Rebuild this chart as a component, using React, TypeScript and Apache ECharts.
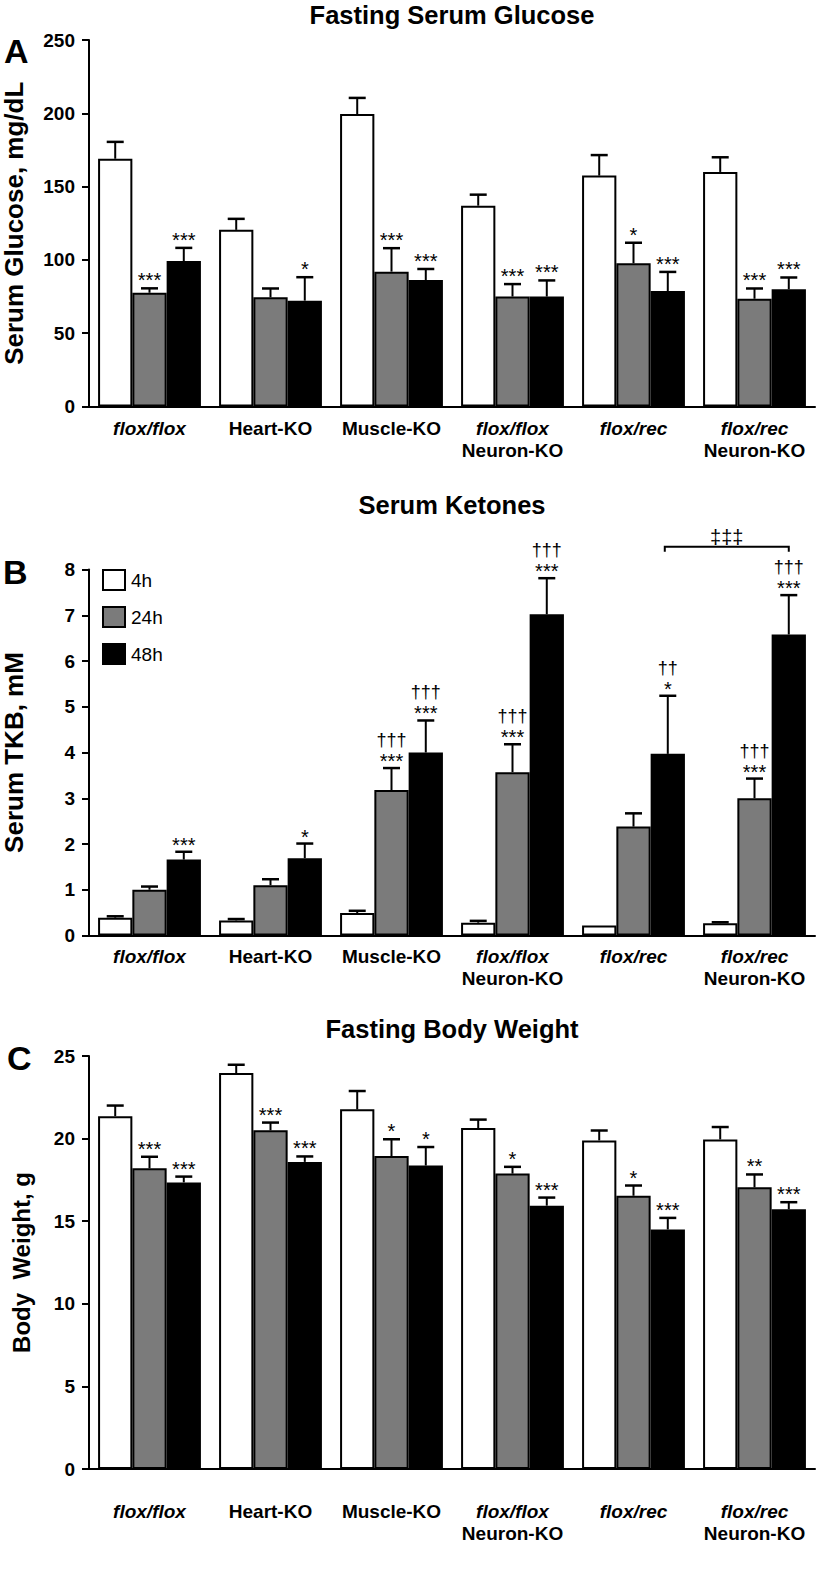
import React, { useEffect, useRef } from 'react';
import * as echarts from 'echarts';

// ---------- data ----------
const categories = ['flox/flox', 'Heart-KO', 'Muscle-KO', 'flox/flox\nNeuron-KO', 'flox/rec', 'flox/rec\nNeuron-KO'];
const timepoints = ['4h', '24h', '48h'];

// A: Fasting serum glucose (mg/dL)
const glucose4h = [169, 120.5, 199.5, 137, 157.5, 160];
const glucose4hErr = [11.5, 7.5, 11, 7.5, 14, 10];
const glucose24h = [77.6, 74.5, 92, 75, 97.7, 73.5];
const glucose24hErr = [3, 6, 16, 8.5, 14, 7];
const glucose48h = [99.2, 72.2, 86.3, 75, 78.8, 80];
const glucose48hErr = [9, 16, 7.5, 11, 13, 8];
const glucoseStars24h = ['***', '', '***', '***', '*', '***'];
const glucoseStars48h = ['***', '*', '***', '***', '***', '***'];

// B: Serum ketones (TKB, mM)
const ketone4h = [0.39, 0.33, 0.49, 0.28, 0.22, 0.27];
const ketone4hErr = [0.03, 0.03, 0.05, 0.04, 0, 0.02];
const ketone24h = [1.0, 1.1, 3.18, 3.57, 2.38, 3.0];
const ketone24hErr = [0.07, 0.13, 0.48, 0.61, 0.29, 0.43];
const ketone48h = [1.66, 1.69, 4.0, 7.02, 3.97, 6.58];
const ketone48hErr = [0.17, 0.32, 0.7, 0.79, 1.27, 0.86];
const ketoneStars24h = ['', '', '***', '***', '', '***'];
const ketoneDaggers24h = ['', '', '†††', '†††', '', '†††'];
const ketoneStars48h = ['***', '*', '***', '***', '*', '***'];
const ketoneDaggers48h = ['', '', '†††', '†††', '††', '†††'];
const ketoneBracket = { from: 4, to: 5, level: 8.5, text: '‡‡‡' };

// C: Fasting body weight (g)
const weight4h = [21.36, 23.97, 21.77, 20.64, 19.89, 19.95];
const weight4hErr = [0.64, 0.5, 1.11, 0.51, 0.6, 0.75];
const weight24h = [18.2, 20.5, 18.94, 17.88, 16.54, 17.05];
const weight24hErr = [0.7, 0.47, 1.02, 0.41, 0.62, 0.78];
const weight48h = [17.35, 18.59, 18.37, 15.94, 14.5, 15.72];
const weight48hErr = [0.35, 0.33, 1.12, 0.49, 0.7, 0.43];
const weightStars24h = ['***', '***', '*', '*', '*', '**'];
const weightStars48h = ['***', '***', '*', '***', '***', '***'];

const empty = ['', '', '', '', '', ''];

// ---------- style ----------
const FONT = '"Liberation Sans", Arial, Helvetica, sans-serif';
const GRAY = '#7b7b7b';
const FILLS = ['#ffffff', GRAY, '#000000'];
const CAT_GAP = 0.15;

type Panel = {
  title: string;
  letter: string;
  yName: string;
  yNameSize: number;
  max: number;
  interval: number;
  top: number;
  height: number;
  nameGap: number;
  labelMargin: number;
  titleY: number;
  letterY: number;
  letterX: number;
  means: number[][];
  errs: number[][];
  stars: string[][];
  daggers: string[][];
  starOffset: number;
};

const panels: Panel[] = [
  {
    title: 'Fasting Serum Glucose', letter: 'A', yName: 'Serum Glucose, mg/dL', yNameSize: 26,
    max: 250, interval: 50, top: 40, height: 366.5, nameGap: 62, labelMargin: 11,
    titleY: 15, letterY: 51, letterX: 4,
    means: [glucose4h, glucose24h, glucose48h],
    errs: [glucose4hErr, glucose24hErr, glucose48hErr],
    stars: [empty, glucoseStars24h, glucoseStars48h],
    daggers: [empty, empty, empty],
    starOffset: 8,
  },
  {
    title: 'Serum Ketones', letter: 'B', yName: 'Serum TKB, mM', yNameSize: 26,
    max: 8, interval: 1, top: 569.5, height: 366, nameGap: 62, labelMargin: 10,
    titleY: 505, letterY: 572, letterX: 3,
    means: [ketone4h, ketone24h, ketone48h],
    errs: [ketone4hErr, ketone24hErr, ketone48hErr],
    stars: [empty, ketoneStars24h, ketoneStars48h],
    daggers: [empty, ketoneDaggers24h, ketoneDaggers48h],
    starOffset: 7,
  },
  {
    title: 'Fasting Body Weight', letter: 'C', yName: 'Body  Weight, g', yNameSize: 24,
    max: 25, interval: 5, top: 1056, height: 413, nameGap: 56, labelMargin: 31,
    titleY: 1029, letterY: 1058, letterX: 7,
    means: [weight4h, weight24h, weight48h],
    errs: [weight4hErr, weight24hErr, weight48hErr],
    stars: [empty, weightStars24h, weightStars48h],
    daggers: [empty, empty, empty],
    starOffset: 8,
  },
];

function catLabel(v: string) {
  return v
    .split('\n')
    .map((line) => (line.indexOf('flox') >= 0 ? '{i|' + line + '}' : '{n|' + line + '}'))
    .join('\n');
}

function buildOption() {
  const grids: any[] = [];
  const xAxes: any[] = [];
  const yAxes: any[] = [];
  const series: any[] = [];
  const graphics: any[] = [];

  panels.forEach((p, pi) => {
    grids.push({ left: 89, top: p.top, width: 726, height: p.height, containLabel: false, outerBoundsMode: 'none' });
    xAxes.push({
      type: 'category',
      gridIndex: pi,
      data: categories,
      axisTick: { show: false },
      axisLine: { lineStyle: { color: '#000', width: 2 } },
      axisLabel: {
        interval: 0,
        margin: p.labelMargin,
        formatter: catLabel,
        rich: {
          i: { fontStyle: 'italic', fontWeight: 'bold', fontSize: 19, fontFamily: FONT, color: '#000', lineHeight: 22 },
          n: { fontWeight: 'bold', fontSize: 19, fontFamily: FONT, color: '#000', lineHeight: 22 },
        },
      },
    });
    yAxes.push({
      type: 'value',
      gridIndex: pi,
      min: 0,
      max: p.max,
      interval: p.interval,
      name: p.yName,
      nameLocation: 'middle',
      nameGap: p.nameGap,
      nameRotate: 90,
      nameTextStyle: { fontSize: p.yNameSize, fontWeight: 'bold', fontFamily: FONT, color: '#000' },
      axisLine: { show: true, lineStyle: { color: '#000', width: 2 } },
      axisTick: { show: true, length: 7, lineStyle: { color: '#000', width: 2 } },
      axisLabel: { fontSize: 19, fontWeight: 'bold', fontFamily: FONT, color: '#000', margin: 14 },
      splitLine: { show: false },
    });

    timepoints.forEach((tp, si) => {
      series.push({
        type: 'bar',
        name: tp,
        xAxisIndex: pi,
        yAxisIndex: pi,
        data: p.means[si],
        barGap: '0%',
        barCategoryGap: CAT_GAP * 100 + '%',
        itemStyle: { color: FILLS[si], borderColor: '#000', borderWidth: 2 },
        silent: true,
        z: 2,
      });
    });

    const ebData: number[][] = [];
    for (let si = 0; si < 3; si++) {
      for (let ci = 0; ci < categories.length; ci++) {
        ebData.push([ci, si, p.means[si][ci], p.errs[si][ci]]);
      }
    }
    series.push({
      type: 'custom',
      xAxisIndex: pi,
      yAxisIndex: pi,
      data: ebData,
      silent: true,
      clip: false,
      z: 5,
      renderItem: (params: any, api: any) => {
        const c = api.value(0);
        const s = api.value(1);
        const m = api.value(2);
        const e = api.value(3);
        const band = api.size([1, 0])[0];
        const bw = (band * (1 - CAT_GAP)) / 3;
        const base = api.coord([c, m]);
        const x = base[0] + (s - 1) * bw;
        const yTop = api.coord([c, m + e])[1];
        const children: any[] = [];
        if (e > 0) {
          children.push({
            type: 'line',
            shape: { x1: x, y1: base[1], x2: x, y2: yTop },
            style: { stroke: '#000', lineWidth: 2 },
          });
          children.push({
            type: 'line',
            shape: { x1: x - 8.5, y1: yTop, x2: x + 8.5, y2: yTop },
            style: { stroke: '#000', lineWidth: 2.5 },
          });
        }
        const star = p.stars[s][c];
        if (star) {
          children.push({
            type: 'text',
            x,
            y: yTop - p.starOffset,
            style: { text: star, fontSize: 20, fontFamily: FONT, fill: '#000', align: 'center', verticalAlign: 'middle' },
          });
        }
        const dag = p.daggers[s][c];
        if (dag) {
          children.push({
            type: 'text',
            x,
            y: yTop - 28,
            style: { text: dag, fontSize: 18, fontFamily: FONT, fill: '#000', align: 'center', verticalAlign: 'middle' },
          });
        }
        return { type: 'group', children };
      },
    });

    graphics.push({
      type: 'text',
      x: 452,
      y: p.titleY,
      style: { text: p.title, fontSize: 25.5, fontWeight: 'bold', fontFamily: FONT, fill: '#000', align: 'center', verticalAlign: 'middle' },
    });
    graphics.push({
      type: 'text',
      x: p.letterX,
      y: p.letterY,
      style: { text: p.letter, fontSize: 34, fontWeight: 'bold', fontFamily: FONT, fill: '#000', align: 'left', verticalAlign: 'middle' },
    });
  });

  // significance bracket in panel B
  series.push({
    type: 'custom',
    xAxisIndex: 1,
    yAxisIndex: 1,
    data: [[ketoneBracket.from, ketoneBracket.to, ketoneBracket.level]],
    silent: true,
    clip: false,
    z: 5,
    renderItem: (params: any, api: any) => {
      const band = api.size([1, 0])[0];
      const bw = (band * (1 - CAT_GAP)) / 3;
      const a = api.coord([api.value(0), api.value(2)]);
      const b = api.coord([api.value(1), api.value(2)]);
      const x1 = a[0] + bw - 3;
      const x2 = b[0] + bw;
      const y = a[1];
      return {
        type: 'group',
        children: [
          {
            type: 'polyline',
            shape: { points: [[x1, y + 5], [x1, y], [x2, y], [x2, y + 5]] },
            style: { stroke: '#000', lineWidth: 2, fill: 'none' },
          },
          {
            type: 'text',
            x: (x1 + x2) / 2,
            y: y - 10,
            style: { text: ketoneBracket.text, fontSize: 20, fontFamily: FONT, fill: '#000', align: 'center', verticalAlign: 'middle' },
          },
        ],
      };
    },
  });

  return {
    animation: false,
    backgroundColor: '#ffffff',
    grid: grids,
    xAxis: xAxes,
    yAxis: yAxes,
    legend: {
      orient: 'vertical',
      left: 102,
      top: 569,
      padding: 0,
      itemWidth: 22,
      itemHeight: 20,
      itemGap: 15,
      selectedMode: false,
      icon: 'rect',
      textStyle: { fontSize: 19, fontFamily: FONT, color: '#000', padding: [0, 0, 0, 1] },
      data: timepoints.map((tp, i) => ({
        name: tp,
        itemStyle: { color: FILLS[i], borderColor: '#000', borderWidth: 2 },
      })),
    },
    graphic: graphics,
    series,
  };
}

export default function App() {
  const ref = useRef<HTMLDivElement>(null);
  useEffect(() => {
    document.body.style.margin = '0';
    if (!ref.current) return;
    const chart = echarts.init(ref.current, undefined, { renderer: 'svg' });
    chart.setOption(buildOption() as any);
    return () => {
      chart.dispose();
    };
  }, []);
  return <div ref={ref} style={{ width: 819, height: 1580, background: '#fff' }} />;
}
